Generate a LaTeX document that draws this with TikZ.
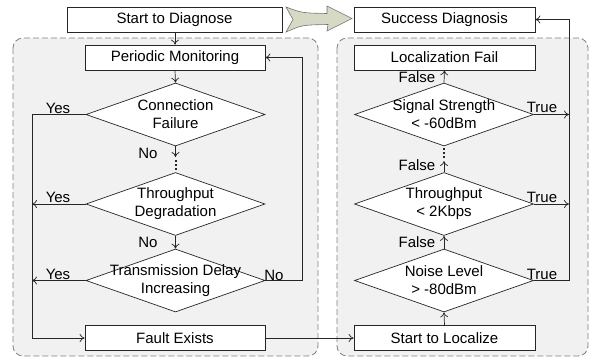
\documentclass[tikz,border=0pt]{standalone}
\usepackage{fontspec}
\setmainfont{Liberation Sans}
\usetikzlibrary{shapes.geometric,arrows.meta}
\definecolor{regionfill}{RGB}{241,241,241}
\definecolor{bigarrowfill}{RGB}{214,218,196}
\begin{document}
\begin{tikzpicture}[x=1pt,y=-1pt,
  font=\fontsize{15}{18}\selectfont,
  box/.style={draw=black!85, fill=white, minimum width=180pt, minimum height=25pt, inner sep=0pt, line width=0.7pt},
  dia/.style={draw=black!85, fill=white, diamond, minimum width=179pt, minimum height=63pt, inner sep=0pt, line width=0.7pt},
  region/.style={draw=black!50, fill=regionfill, dash pattern=on 6pt off 3pt, rounded corners=10pt, line width=0.8pt},
  conn/.style={draw=black!85, line width=0.7pt},
  arr/.style={conn, -{To[length=5pt,width=8pt]}},
  dots/.style={draw=black!85, line width=2pt, dash pattern=on 2pt off 2pt},
  lbl/.style={inner sep=0pt}
]
\useasboundingbox (0,0) rectangle (590,360);

% dashed regions
\path[region] (13,38) rectangle (318,356);
\path[region] (337,38) rectangle (588,356);

% top row
\node[box, minimum width=215pt] (sd) at (174.5,19.5) {Start to Diagnose};
\node[box, minimum width=181pt] (sdg) at (444.5,19.5) {Success Diagnosis};
\draw[draw=black!55, fill=bigarrowfill, line width=0.6pt]
  (286,7) .. controls (302,13) .. (327,13.5) -- (327,6) -- (352,18.5) -- (327,31)
  -- (328,24.5) .. controls (302,25) .. (286,32) -- (293,19.5) -- cycle;

% diagnosis column
\node[box] (pm) at (175,57.5) {Periodic Monitoring};
\node[dia, label={[align=center]center:Connection\\Failure}] (cf) at (175.5,114.5) {};
\node[dia, label={[align=center]center:Throughput\\Degradation}] (tg) at (175.5,204) {};
\node[dia, label={[align=center]center:Transmission Delay\\Increasing}] (tr) at (175.5,280.5) {};
\node[box] (fe) at (175,338) {Fault Exists};

% localization column
\node[box, minimum width=181pt] (lf) at (444.5,57.5) {Localization Fail};
\node[dia, label={[align=center]center:Signal Strength\\< -60dBm}] (ss) at (444,114.5) {};
\node[dia, label={[align=center]center:Throughput\\< 2Kbps}] (tp) at (444,204) {};
\node[dia, label={[align=center]center:Noise Level\\> -80dBm}] (nl) at (444,280.5) {};
\node[box, minimum width=181pt] (sl) at (444.5,338) {Start to Localize};

% routing coordinates
\coordinate (lx) at (32,0);
\coordinate (rx) at (302,0);
\coordinate (tx) at (569,0);
\coordinate (ldot) at (175.5,157);
\coordinate (rdot) at (444,161);

% diagnosis flow
\draw[arr] (pm.north |- sd.south) -- (pm.north);
\draw[arr] (pm.south) -- (cf.north);
\draw[arr] (cf.south) -- (ldot);
\draw[dots] (175.5,160) -- (175.5,171);
\draw[arr] (tg.south) -- (tr.north);
\draw[arr] (cf.west) -- (cf.west -| lx) -- (fe.west -| lx) -- (fe.west);
\draw[arr] (tg.west) -- (tg.west -| lx);
\draw[arr] (tr.west) -- (tr.west -| lx);
\draw[arr] (tr.east) -- (tr.east -| rx) -- (pm.east -| rx) -- (pm.east);
\draw[arr] (fe.east) -- (sl.west);

% localization flow
\draw[arr] (sl.north) -- (nl.south);
\draw[arr] (nl.north) -- (tp.south);
\draw[arr] (tp.north) -- (rdot);
\draw[dots] (444,148) -- (444,159);
\draw[arr] (ss.north) -- (lf.south);
\draw[arr] (ss.east) -- (ss.east -| tx);
\draw[arr] (tp.east) -- (tp.east -| tx);
\draw[arr] (nl.east) -- (nl.east -| tx) -- (sdg.east -| tx) -- (sdg.east);

% branch labels
\node[lbl] (y1) at (58,108) {Yes};
\node[lbl] (y2) at (58,197) {Yes};
\node[lbl] (y3) at (58,274) {Yes};
\node[lbl] (n1) at (148,153) {No};
\node[lbl] (n2) at (148,242) {No};
\node[lbl] (n3) at (274,275) {No};
\node[lbl] (t1) at (542,107) {True};
\node[lbl] (t2) at (542,197) {True};
\node[lbl] (t3) at (542,274) {True};
\node[lbl] (f1) at (417,77) {False};
\node[lbl] (f2) at (417,165) {False};
\node[lbl] (f3) at (417,242) {False};
\end{tikzpicture}
\end{document}
